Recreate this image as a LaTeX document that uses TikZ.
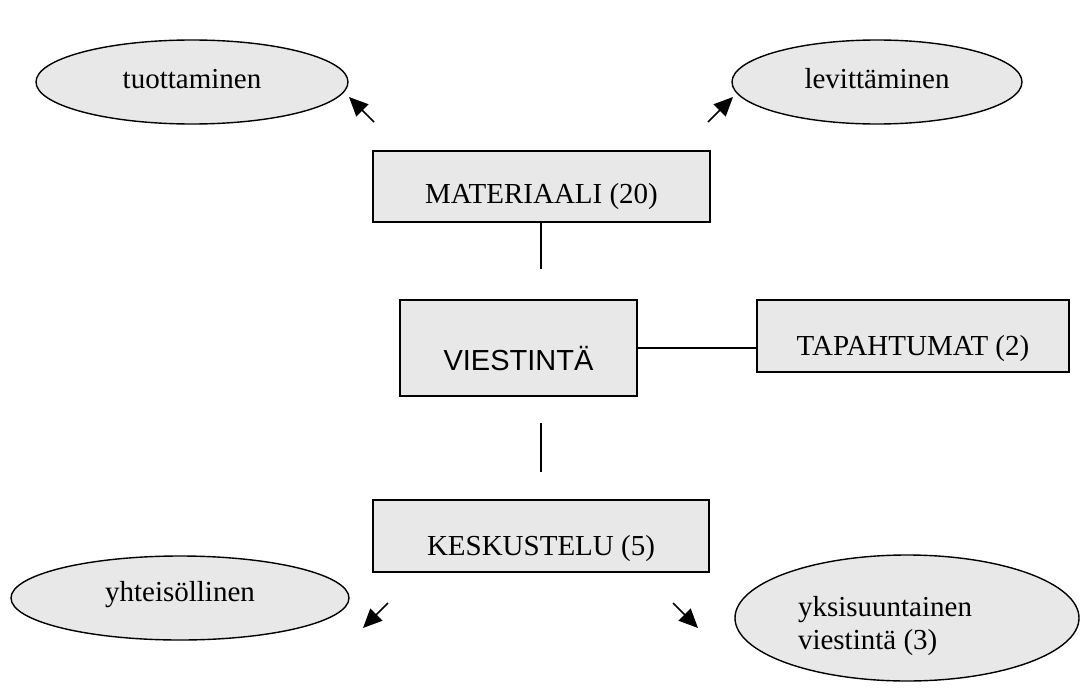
\documentclass[tikz,border=0pt]{standalone}
\usepackage{fontspec}
\setmainfont{Liberation Serif}
\newfontfamily\arialfont{Liberation Sans}
\usetikzlibrary{arrows.meta,shapes.geometric}
\begin{document}
\begin{tikzpicture}[x=1pt,y=-1pt,
  every node/.style={inner sep=0pt, outer sep=0pt},
  boxstyle/.style={draw=black, line width=1.4pt, fill=black!9, rectangle},
  ellstyle/.style={draw=black, line width=1.4pt, fill=black!9, ellipse},
  txt/.style={font=\fontsize{29}{33}\selectfont, anchor=base},
  link/.style={draw=black, line width=1.4pt},
  arr/.style={draw=black, line width=1.5pt, -{Triangle[length=19pt,width=17pt]}}
]
\useasboundingbox (0,0) rectangle (1087,696);
% ellipses
\node[ellstyle, minimum width=312pt, minimum height=84pt] (tuo) at (192,82) {};
\node[txt] (tuot) at (192,88) {tuottaminen};
\node[ellstyle, minimum width=290pt, minimum height=84pt] (lev) at (877,82) {};
\node[txt] (levt) at (877,88) {levittäminen};
\node[ellstyle, minimum width=338pt, minimum height=84pt] (yht) at (180,598) {};
\node[txt] (yhtt) at (180,601) {yhteisöllinen};
\node[ellstyle, minimum width=344pt, minimum height=126pt] (yks) at (907,618) {};
\node[font=\fontsize{29}{33}\selectfont, anchor=base west] (ykst) at (798,616) {yksisuuntainen};
\node[font=\fontsize{29}{33}\selectfont, anchor=base west] (ykst2) at (798,649) {viestintä (3)};
% boxes
\node[boxstyle, minimum width=337pt, minimum height=71pt] (mat) at (541.5,186.5) {};
\node[txt] (matt) at (541.5,203) {MATERIAALI (20)};
\node[boxstyle, minimum width=237pt, minimum height=96pt] (vie) at (518.5,348) {};
\node[font=\arialfont\fontsize{29}{33}\selectfont, anchor=base] (viet) at (518.5,370) {VIESTINTÄ};
\node[boxstyle, minimum width=312pt, minimum height=72pt] (tap) at (913,336) {};
\node[txt] (tapt) at (913,355) {TAPAHTUMAT (2)};
\node[boxstyle, minimum width=336pt, minimum height=72pt] (kes) at (541,536) {};
\node[txt] (kest) at (541,555) {KESKUSTELU (5)};
% connector ends
\coordinate (m1) at (541,222);
\coordinate (m2) at (541,269);
\coordinate (k1) at (541,423);
\coordinate (k2) at (541,472);
\draw[link] (m1) -- (m2);
\draw[link] (k1) -- (k2);
\draw[link] (vie.east) -- (tap.west |- vie.east);
% arrows
\coordinate (a1s) at (374,122);
\coordinate (a1e) at (349,97);
\coordinate (a2s) at (708,122);
\coordinate (a2e) at (733,97);
\coordinate (a3s) at (388,603);
\coordinate (a3e) at (363,628);
\coordinate (a4s) at (673,603);
\coordinate (a4e) at (698,628);
\draw[arr] (a1s) -- (a1e);
\draw[arr] (a2s) -- (a2e);
\draw[arr] (a3s) -- (a3e);
\draw[arr] (a4s) -- (a4e);
\end{tikzpicture}
\end{document}
